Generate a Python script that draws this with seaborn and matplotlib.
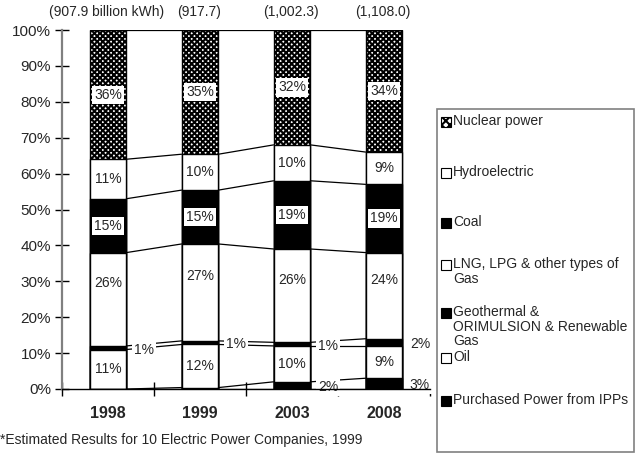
import seaborn as sns
import matplotlib.pyplot as plt
import matplotlib.patches as mpatches
import pandas as pd
import numpy as np

years = ['1998', '1999', '2003', '2008']
totals = ['(907.9 billion kWh)', '(917.7)', '(1,002.3)', '(1,108.0)']

# shares in %, bottom to top
ipp = [0, 0.4, 2, 3]
oil = [11, 12, 10, 9]
geo = [1, 1, 1, 2]
gas = [26, 27, 26, 24]
coal = [15, 15, 19, 19]
hydro = [11, 10, 10, 9]
nuclear = [36, 34.6, 32, 34]

series = ['Purchased Power from IPPs', 'Oil',
          'Geothermal &\nORIMULSION & Renewable\nGas',
          'LNG, LPG & other types of\nGas', 'Coal', 'Hydroelectric', 'Nuclear power']
values = [ipp, oil, geo, gas, coal, hydro, nuclear]
fills = ['black', 'white', 'black', 'white', 'black', 'white', 'white']
hatches = [None, None, None, None, None, None, 'xxxxxx']

df = pd.DataFrame(dict(zip(series, values)), index=years)
cum = df.cumsum(axis=1)

sns.set_theme(style='white')
plt.rcParams['font.family'] = ['Liberation Sans', 'DejaVu Sans']
plt.rcParams['hatch.linewidth'] = 1.5

fig = plt.figure(figsize=(6.35, 4.55), dpi=100)
ax = fig.add_axes([62 / 635, 1 - 389 / 455, (430 - 62) / 635, (389 - 30) / 455])

w = 0.4
# draw cumulative bars from the top layer down so each one overlays the next
for i in range(len(series) - 1, -1, -1):
    d = pd.DataFrame({'year': years, 'top': cum.iloc[:, i].values})
    kw = {}
    if hatches[i]:
        kw['hatch'] = hatches[i]
    sns.barplot(data=d, x='year', y='top', order=years, color=fills[i],
                saturation=1, width=w, edgecolor='black', linewidth=1,
                ax=ax, **kw)

# series lines between bars
bounds = np.column_stack([np.zeros(len(years)), cum.values])
for k in range(bounds.shape[1]):
    for j in range(len(years) - 1):
        ax.plot([j + w / 2, j + 1 - w / 2], [bounds[j, k], bounds[j + 1, k]],
                color='black', lw=0.9, zorder=1)

# labels
box = dict(boxstyle='square,pad=0.15', fc='white', ec='none')
offs = {3: 4.5}
for i, name in enumerate(series):
    for j in range(len(years)):
        v = df.iloc[j, i]
        lo = bounds[j, i]
        mid = lo + v / 2
        txt = f'{round(v)}%'
        if v >= 5:
            ax.text(j, mid + offs.get(i, 0), txt, ha='center', va='center',
                    fontsize=10, bbox=box, zorder=5)
        elif v >= 1:
            ax.text(j + 0.39, mid - 0.5, txt, ha='center', va='center',
                    fontsize=10, bbox=box, zorder=5)

ax.set_xlim(-0.5, 3.5)
ax.set_ylim(0, 100)
ax.set_yticks(np.arange(0, 101, 10))
ax.set_yticklabels([f'{t}%' for t in range(0, 101, 10)], fontsize=11)
ax.set_xticks([-0.5, 0.5, 1.5, 2.5, 3.5], minor=False)
ax.set_xticklabels([])
ax.set_xticks(range(4), minor=True)
ax.set_xticklabels(years, minor=True, fontsize=11.5, fontweight='bold')
ax.tick_params(axis='x', which='minor', bottom=True, length=0, pad=12)
ax.tick_params(axis='x', which='major', bottom=True, direction='inout', length=10, width=1, color='black')
ax.tick_params(axis='y', left=True, direction='inout', length=10, width=1, color='black', pad=3)
ax.set_xlabel('')
ax.set_ylabel('')
for s in ['top', 'right']:
    ax.spines[s].set_visible(False)
ax.spines['left'].set_color('#808080')
ax.spines['left'].set_linewidth(1.6)
ax.spines['bottom'].set_color('black')
ax.spines['bottom'].set_linewidth(1)
ax.spines['bottom'].set_zorder(6)

for j, t in enumerate(totals):
    fig.text((62 + 92 * j + 45) / 635, 1 - 12 / 455, t, ha='center', va='center', fontsize=10)

fig.text(0.0, 1 - 440 / 455, '*Estimated Results for 10 Electric Power Companies, 1999',
         ha='left', va='center', fontsize=10)

# legend box
fig.patches.append(mpatches.Rectangle((437 / 635, 1 - 452 / 455), (634 - 437) / 635, (452 - 109) / 455,
                                      transform=fig.transFigure, fill=False, ec='#808080', lw=1.2))
leg_y = [401, 358, 313, 265, 223, 173, 122]
for i, name in enumerate(series):
    y = leg_y[i]
    fig.patches.append(mpatches.Rectangle((441 / 635, 1 - (y + 5) / 455), 10 / 635, 10 / 455,
                                          transform=fig.transFigure, fc=fills[i], ec='black',
                                          lw=0.8, hatch='xxxx' if hatches[i] else None))
    fig.text(453 / 635, 1 - (y - 8) / 455, name, ha='left', va='top', fontsize=10,
             linespacing=1.05)

fig.savefig('out.png', dpi=100)
